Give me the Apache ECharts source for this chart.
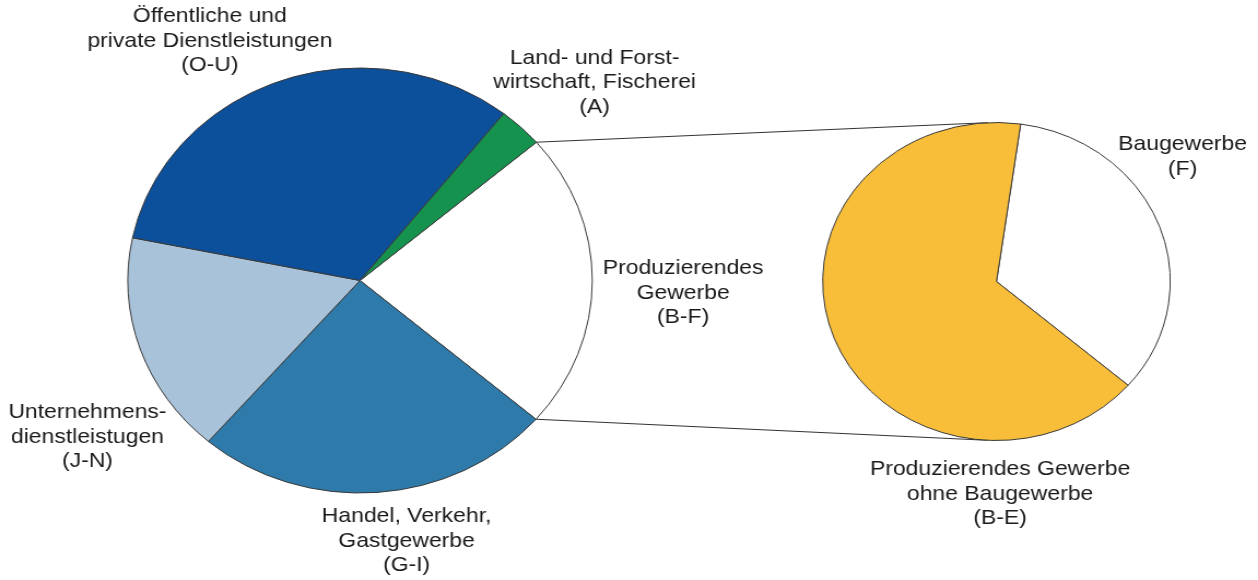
<!DOCTYPE html>
<html>
<head>
<meta charset="utf-8">
<script src="https://cdn.jsdelivr.net/npm/echarts@6/dist/echarts.min.js"></script>
<style>
  html, body { margin: 0; padding: 0; background: #ffffff; overflow: hidden; }
  #wrap { width: 1258px; height: 580px; overflow: hidden; }
  #chart { width: 1151px; height: 580px; transform: scaleX(1.093); transform-origin: 0 0; }
</style>
</head>
<body>
<div id="wrap"><div id="chart"></div></div>
<script>
// ---- data ----
var mainCategories = ['Produzierendes\nGewerbe\n(B-F)', 'Handel, Verkehr,\nGastgewerbe\n(G-I)', 'Unternehmens-\ndienstleistugen\n(J-N)', 'Öffentliche und\nprivate Dienstleistungen\n(O-U)', 'Land- und Forst-\nwirtschaft, Fischerei\n(A)'];
var mainValues = [22.6, 25.0, 16.9, 32.4, 3.1];
var mainColors = ['#ffffff', '#2e7bab', '#a8c2d9', '#0c4f9a', '#16924f'];

var subCategories = ['Baugewerbe\n(F)', 'Produzierendes Gewerbe\nohne Baugewerbe\n(B-E)'];
var subValues = [34.1, 65.9];
var subColors = ['#ffffff', '#f8be3a'];

// ---- layout (chart coordinates, before horizontal stretch) ----
var mainCenter = [329.4, 280.5], mainRadius = 212.5, mainStart = 40.6;
var subCenter = [911.7, 281.5], subRadius = 159, subStart = 82.0;
var labelPos = [[625, 293], [372, 541], [80, 437], [192, 41], [544, 82.5]];
var subLabelPos = [[1082, 156.5], [915, 494]];

var chart = echarts.init(document.getElementById('chart'), null, { renderer: 'canvas' });

function mk(names, vals, cols) {
  return names.map(function (n, i) {
    return { name: n, value: vals[i], itemStyle: { color: cols[i] } };
  });
}

// connector lines: from B-F slice edges of main pie, tangent to the secondary pie
var total = mainValues.reduce(function (a, b) { return a + b; }, 0);
var a1 = mainStart * Math.PI / 180;
var a2 = (mainStart - 360 * mainValues[0] / total) * Math.PI / 180;
function onMain(a) { return [mainCenter[0] + mainRadius * Math.cos(a), mainCenter[1] - mainRadius * Math.sin(a)]; }
function tangent(P, sign) {
  var dx = P[0] - subCenter[0], dy = P[1] - subCenter[1];
  var d = Math.sqrt(dx * dx + dy * dy);
  var th = Math.acos(subRadius / d);
  var base = Math.atan2(dy, dx) + sign * th;
  return [subCenter[0] + subRadius * Math.cos(base), subCenter[1] + subRadius * Math.sin(base)];
}
var pTop = onMain(a1), pBot = onMain(a2);
var tTop = tangent(pTop, 1), tBot = tangent(pBot, -1);

var textStyleBase = { fontFamily: 'Liberation Sans, Arial, sans-serif', fontSize: 21, lineHeight: 24.5, fill: '#1a1a1a', textAlign: 'center', textVerticalAlign: 'middle' };
var graphics = [
  { type: 'line', shape: { x1: pTop[0], y1: pTop[1], x2: tTop[0], y2: tTop[1] }, style: { stroke: '#333', lineWidth: 1 }, z: 1 },
  { type: 'line', shape: { x1: pBot[0], y1: pBot[1], x2: tBot[0], y2: tBot[1] }, style: { stroke: '#333', lineWidth: 1 }, z: 1 }
];
mainCategories.forEach(function (n, i) {
  graphics.push({ type: 'text', x: labelPos[i][0], y: labelPos[i][1], style: Object.assign({ text: n }, textStyleBase), z: 10 });
});
subCategories.forEach(function (n, i) {
  graphics.push({ type: 'text', x: subLabelPos[i][0], y: subLabelPos[i][1], style: Object.assign({ text: n }, textStyleBase), z: 10 });
});

var pieCommon = {
  type: 'pie',
  clockwise: true,
  label: { show: false },
  labelLine: { show: false },
  emphasis: { disabled: true },
  silent: true,
  animation: false,
  avoidLabelOverlap: false,
  z: 5
};

chart.setOption({
  backgroundColor: '#ffffff',
  animation: false,
  series: [
    Object.assign({}, pieCommon, {
      center: mainCenter, radius: mainRadius, startAngle: mainStart,
      itemStyle: { borderColor: '#3a3a3a', borderWidth: 1 },
      data: mk(mainCategories, mainValues, mainColors)
    }),
    Object.assign({}, pieCommon, {
      center: subCenter, radius: subRadius, startAngle: subStart,
      itemStyle: { borderColor: '#3a3a3a', borderWidth: 1 },
      data: mk(subCategories, subValues, subColors)
    })
  ],
  graphic: graphics
});
</script>
</body>
</html>
